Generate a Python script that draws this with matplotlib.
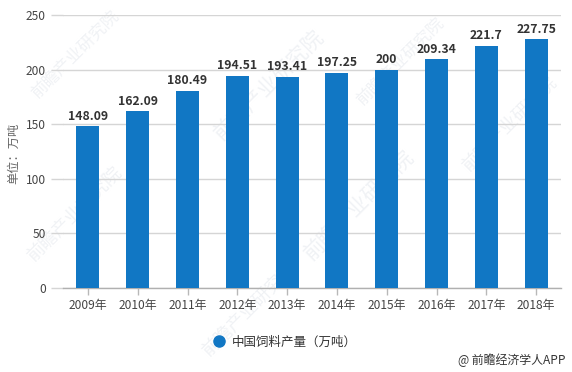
import matplotlib
matplotlib.use('Agg')
import matplotlib.pyplot as plt

plt.rcParams['font.family'] = ['Noto Sans CJK SC', 'DejaVu Sans']

years = ['2009年', '2010年', '2011年', '2012年', '2013年', '2014年', '2015年', '2016年', '2017年', '2018年']
values = [148.09, 162.09, 180.49, 194.51, 193.41, 197.25, 200, 209.34, 221.7, 227.75]
labels = ['148.09', '162.09', '180.49', '194.51', '193.41', '197.25', '200', '209.34', '221.7', '227.75']
yticks = [0, 50, 100, 150, 200, 250]
series_name = '中国饲料产量（万吨）'
y_title = '单位：万吨'
credit = '@ 前瞻经济学人APP'
watermark = '前瞻产业研究院'

W, H = 572, 372
BLUE = '#1177C4'
GRID = '#D5D5D5'
TXT = '#444444'

fig = plt.figure(figsize=(W / 100, H / 100), dpi=100, facecolor='white')
L, R, T, B = 63, 561, 15, 288
ax = fig.add_axes([L / W, 1 - B / H, (R - L) / W, (B - T) / H], zorder=2)

# faint watermarks behind the plot
for (wx, wy, s) in [(75, 55, 12), (270, 85, 15), (400, 62, 12), (75, 215, 13), (360, 205, 15), (250, 310, 13), (510, 125, 13)]:
    fig.text(wx / W, 1 - wy / H, watermark, fontsize=s, color='#F0F2F5', rotation=45,
             ha='center', va='center', zorder=0)

ax.patch.set_alpha(0)
ax.bar(range(len(values)), values, width=0.46, color=BLUE, zorder=3)
ax.set_xlim(-0.5, len(values) - 0.5)
ax.set_ylim(0, 250)
ax.set_yticks(yticks)
ax.set_xticks(range(len(years)))
ax.set_xticklabels(years, fontsize=8.6, color=TXT)
ax.tick_params(axis='x', length=5, width=1, color='#B8B8B8', pad=3)
ax.tick_params(axis='y', length=9, width=1, color=GRID, labelsize=8.6, labelcolor=TXT, pad=3.5)
ax.grid(axis='y', color=GRID, lw=1, zorder=1)
ax.set_axisbelow(True)
for s in ['top', 'right', 'left']:
    ax.spines[s].set_visible(False)
ax.spines['bottom'].set_color('#B0B0B0')
ax.spines['bottom'].set_linewidth(1)

for i, (v, t) in enumerate(zip(values, labels)):
    ax.annotate(t, (i, v), xytext=(0, 2.5), textcoords='offset points', ha='center', va='bottom',
                fontsize=8.8, fontweight='bold', color='#333333', zorder=4)

fig.text(13.5 / W, 1 - 153 / H, y_title, rotation=90, ha='center', va='center', fontsize=8.8, color='#666666')
fig.add_artist(plt.Line2D([218.5 / W], [1 - 341 / H], marker='o', ms=8, color=BLUE, lw=0))
fig.text(232 / W, 1 - 342 / H, series_name, ha='left', va='center', fontsize=9, color='#333333')
fig.text(566 / W, 1 - 360 / H, credit, ha='right', va='center', fontsize=8.6, color='#333333')

fig.savefig('out.png', dpi=100)
